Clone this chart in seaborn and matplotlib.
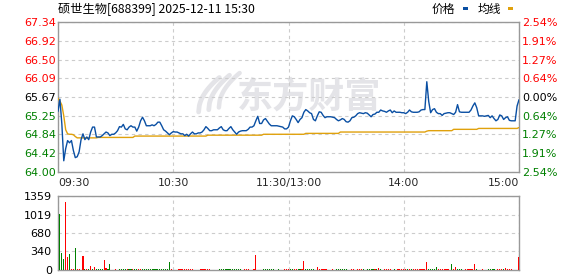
import numpy as np
import pandas as pd
import matplotlib
matplotlib.use("Agg")
import matplotlib.pyplot as plt
import seaborn as sns

# ---------------- data ----------------
title_text = "硕世生物[688399] 2025-12-11 15:30"
pre_close = 65.67
price_ticks = [64.00, 64.42, 64.84, 65.25, 65.67, 66.09, 66.50, 66.92, 67.34]
price_labels = ["64.00", "64.42", "64.84", "65.25", "65.67", "66.09", "66.50", "66.92", "67.34"]
pct_labels = ["2.54%", "1.91%", "1.27%", "0.64%", "0.00%", "0.64%", "1.27%", "1.91%", "2.54%"]
time_ticks = [0, 60, 120, 180, 240]
time_labels = ["09:30", "10:30", "11:30/13:00", "14:00", "15:00"]
vol_ticks = [0, 340, 680, 1019, 1359]
vol_labels = ["0", "340", "680", "1019", "1359"]

price = [
    65.35, 65.62, 65.07, 64.25, 64.52, 64.70, 64.65, 64.70, 64.48, 64.32,
    64.34, 64.45, 64.72, 64.85, 64.72, 64.78, 64.72, 64.89, 65.00, 65.00,
    64.78, 64.78, 64.78, 64.81, 64.85, 64.89, 64.87, 64.81, 64.84, 64.84,
    64.87, 64.92, 65.01, 65.00, 65.06, 64.96, 64.94, 65.00, 65.03, 65.00,
    65.00, 64.91, 65.00, 65.14, 65.22, 65.14, 65.03, 65.03, 65.03, 65.05,
    65.03, 65.06, 65.11, 65.11, 65.03, 64.94, 64.91, 64.87, 64.83, 64.87,
    64.90, 64.89, 64.89, 64.87, 64.85, 64.85, 64.81, 64.84, 64.80, 64.85,
    64.89, 64.85, 64.85, 64.87, 64.87, 64.89, 64.94, 65.01, 64.97, 64.92,
    64.92, 64.94, 64.94, 64.94, 64.98, 65.01, 64.94, 64.92, 64.92, 64.97,
    65.01, 64.94, 64.89, 64.84, 64.89, 64.91, 64.92, 64.92, 64.92, 64.95,
    65.00, 65.00, 65.03, 65.14, 65.24, 65.08, 65.08, 65.16, 65.19, 65.13,
    65.07, 65.03, 65.03, 65.03, 65.03, 65.02, 65.01, 65.00, 64.96, 64.96,
    65.00, 65.14, 65.25, 65.23, 65.17, 65.10, 65.17, 65.21, 65.33, 65.39,
    65.36, 65.32, 65.30, 65.17, 65.14, 65.25, 65.34, 65.33, 65.26, 65.21,
    65.23, 65.23, 65.23, 65.22, 65.21, 65.17, 65.14, 65.16, 65.19, 65.17,
    65.12, 65.11, 65.14, 65.21, 65.22, 65.25, 65.30, 65.32, 65.31, 65.30,
    65.32, 65.31, 65.27, 65.23, 65.28, 65.29, 65.33, 65.33, 65.38, 65.36,
    65.35, 65.33, 65.36, 65.38, 65.32, 65.36, 65.33, 65.33, 65.33, 65.32,
    65.32, 65.30, 65.33, 65.38, 65.34, 65.33, 65.33, 65.33, 65.34, 65.38,
    65.39, 65.39, 66.01, 65.57, 65.32, 65.39, 65.41, 65.33, 65.30, 65.30,
    65.26, 65.30, 65.31, 65.32, 65.32, 65.30, 65.28, 65.33, 65.50, 65.34,
    65.33, 65.33, 65.33, 65.33, 65.33, 65.38, 65.47, 65.54, 65.43, 65.25,
    65.25, 65.25, 65.24, 65.25, 65.26, 65.21, 65.25, 65.19, 65.14, 65.17,
    65.27, 65.25, 65.17, 65.21, 65.23, 65.15, 65.14, 65.14, 65.14, 65.47,
    65.61,
]

avg_price = [
    65.64, 65.58, 65.49, 65.25, 64.94, 64.85, 64.84, 64.84, 64.83, 64.79,
    64.76, 64.76, 64.76, 64.76, 64.76, 64.76, 64.76, 64.76, 64.76, 64.76,
    64.76, 64.77, 64.77, 64.77, 64.77, 64.77, 64.77, 64.77, 64.77, 64.77,
    64.77, 64.77, 64.77, 64.77, 64.77, 64.77, 64.77, 64.77, 64.77, 64.77,
    64.80, 64.80, 64.80, 64.80, 64.80, 64.80, 64.80, 64.80, 64.80, 64.80,
    64.80, 64.80, 64.80, 64.80, 64.80, 64.80, 64.80, 64.80, 64.80, 64.80,
    64.80, 64.80, 64.80, 64.80, 64.80, 64.80, 64.80, 64.80, 64.80, 64.80,
    64.80, 64.80, 64.80, 64.80, 64.80, 64.80, 64.80, 64.80, 64.82, 64.82,
    64.82, 64.82, 64.82, 64.82, 64.82, 64.82, 64.82, 64.82, 64.82, 64.82,
    64.82, 64.82, 64.82, 64.82, 64.82, 64.82, 64.82, 64.82, 64.82, 64.82,
    64.82, 64.82, 64.82, 64.82, 64.82, 64.82, 64.82, 64.84, 64.84, 64.84,
    64.84, 64.84, 64.84, 64.84, 64.84, 64.84, 64.84, 64.84, 64.84, 64.84,
    64.84, 64.84, 64.84, 64.84, 64.84, 64.84, 64.84, 64.84, 64.84, 64.86,
    64.86, 64.86, 64.86, 64.86, 64.86, 64.86, 64.86, 64.86, 64.86, 64.86,
    64.86, 64.86, 64.86, 64.86, 64.86, 64.86, 64.86, 64.89, 64.89, 64.89,
    64.89, 64.89, 64.89, 64.89, 64.89, 64.89, 64.89, 64.89, 64.89, 64.89,
    64.89, 64.89, 64.89, 64.89, 64.89, 64.89, 64.89, 64.89, 64.89, 64.89,
    64.89, 64.89, 64.89, 64.89, 64.89, 64.89, 64.89, 64.89, 64.89, 64.89,
    64.89, 64.89, 64.89, 64.89, 64.89, 64.89, 64.89, 64.89, 64.89, 64.89,
    64.89, 64.89, 64.91, 64.92, 64.92, 64.92, 64.92, 64.92, 64.92, 64.92,
    64.92, 64.92, 64.92, 64.92, 64.92, 64.92, 64.95, 64.95, 64.95, 64.95,
    64.95, 64.95, 64.95, 64.95, 64.95, 64.95, 64.95, 64.95, 64.95, 64.97,
    64.97, 64.97, 64.97, 64.97, 64.97, 64.97, 64.97, 64.97, 64.97, 64.97,
    64.97, 64.97, 64.97, 64.97, 64.97, 64.97, 64.97, 64.97, 64.97, 64.97,
    64.99,
]

volume = [
    0, 1028, 306, 202, 1255, 233, 294, 15, 15, 398,
    15, 15, 0, 257, 15, 15, 15, 73, 15, 49,
    15, 15, 15, 15, 184, 37, 15, 110, 0, 0,
    15, 0, 15, 15, 15, 15, 15, 15, 15, 25,
    15, 15, 15, 25, 15, 15, 15, 15, 15, 15,
    15, 15, 15, 15, 15, 15, 15, 15, 147, 15,
    0, 0, 0, 15, 15, 15, 15, 15, 15, 15,
    15, 0, 0, 0, 15, 15, 15, 15, 15, 15,
    0, 0, 0, 0, 15, 15, 15, 15, 15, 15,
    15, 15, 15, 15, 15, 15, 0, 15, 15, 15,
    0, 0, 15, 275, 0, 0, 0, 15, 15, 15,
    15, 15, 15, 0, 0, 15, 0, 0, 15, 15,
    15, 15, 15, 15, 15, 15, 15, 15, 165, 15,
    15, 15, 15, 15, 0, 49, 15, 15, 15, 15,
    15, 0, 0, 15, 0, 15, 15, 15, 15, 15,
    15, 0, 0, 15, 15, 0, 15, 15, 15, 15,
    0, 15, 15, 15, 15, 15, 15, 37, 15, 0,
    15, 15, 15, 15, 0, 15, 0, 15, 15, 15,
    15, 15, 15, 15, 15, 15, 15, 15, 15, 15,
    15, 15, 147, 15, 15, 15, 15, 55, 15, 15,
    15, 15, 15, 15, 0, 110, 15, 49, 15, 15,
    15, 0, 15, 15, 15, 15, 15, 110, 15, 0,
    0, 15, 0, 0, 15, 15, 15, 15, 0, 15,
    15, 15, 15, 37, 15, 15, 15, 0, 0, 0,
    239,
]

bar_dir = ("r" "ggg" "rr" "g" "rr" "g" "rrrr" "g" "r" "g" "r" "g" "r" "gggg" "rr" "gg"
           "rrrr" "gggg" "r" "gg" "r" "gg" "rr" + "g" * 15 + "r" * 21 + "g" * 16
           + "r" * 11 + "g" * 11 + "rrr" + "ggrrggr" + "r" + "g" * 6 + "r" * 10
           + "g" * 8 + "r" * 6 + "g" * 6 + "r" "g" "r" "gg" + "r" * 5 + "gg"
           + "r" * 4 + "rgrgr" + "r" * 7 + "g" * 5 + "r" * 7 + "g" "rr" + "g" * 4
           + "r" * 6 + "ggg" + "rrr" + "g" * 5 + "rrr" + "g" + "r" * 8)

n = len(price)
minutes = list(range(n))
bar_dir = (bar_dir + "r" * n)[:n]

df = pd.DataFrame({"minute": minutes, "price": price, "avg": avg_price})

# ---------------- style ----------------
sns.set_theme(style="white")
plt.rcParams["font.family"] = ["DejaVu Sans", "Noto Sans CJK SC"]

RED = "#ff0000"
GREEN = "#008000"
BLUE = "#0a4fa3"
ORANGE = "#e0a10c"
GRID = "#cccccc"
SPINE = "#999999"

W, H = 578, 276
fig = plt.figure(figsize=(W / 100, H / 100), dpi=100)
fig.patch.set_facecolor("white")

def frac(x0, y0, x1, y1):
    return [x0 / W, 1 - y1 / H, (x1 - x0) / W, (y1 - y0) / H]

ax = fig.add_axes(frac(58, 22, 519, 172))
axv = fig.add_axes(frac(58, 196, 519, 270))

# watermark
ax.text(0.545, 0.50, "东方财富", transform=ax.transAxes, ha="center", va="center",
        fontsize=26, fontweight="bold", color="#e4e4e8", family=["Noto Sans CJK SC"], zorder=0)
for k, (dx, lw) in enumerate([(0.0, 3.4), (0.022, 3.4), (0.044, 3.2)]):
    t = np.linspace(0, 1, 30)
    xs = 0.305 + dx + 0.045 * t
    ys = 0.40 + 0.23 * np.sqrt(t) + 0.015 * k
    ax.plot(xs, ys, transform=ax.transAxes, color="#e4e4e8", lw=lw,
            solid_capstyle="round", zorder=0)

# lines
sns.lineplot(data=df, x="minute", y="avg", ax=ax, color=ORANGE, linewidth=1.0,
             errorbar=None, zorder=3)
sns.lineplot(data=df, x="minute", y="price", ax=ax, color=BLUE, linewidth=1.0,
             errorbar=None, zorder=4)

ax.set_xlim(0, 240)
ax.set_ylim(price_ticks[0], price_ticks[-1])
ax.set_xlabel("")
ax.set_ylabel("")
ax.set_xticks(time_ticks)
ax.set_xticklabels(time_labels)
ax.set_yticks(price_ticks)
ax.set_yticklabels(price_labels)
ax.tick_params(axis="both", length=0, labelsize=8)
ax.tick_params(axis="y", pad=1.5)
ax.tick_params(axis="x", pad=4, labelsize=7.8)
xt = ax.get_xticklabels()
xt[0].set_ha("left")
xt[-1].set_ha("right")
for lab, v in zip(ax.get_yticklabels(), price_ticks):
    lab.set_color(RED if v > pre_close + 1e-6 else (GREEN if v < pre_close - 1e-6 else "black"))

ax.grid(True, linestyle=(0, (3, 3)), color=GRID, linewidth=0.8)
for s in ax.spines.values():
    s.set_color(SPINE)
    s.set_linewidth(1.0)

axr = ax.twinx()
axr.set_ylim(price_ticks[0], price_ticks[-1])
axr.set_yticks(price_ticks)
axr.set_yticklabels(pct_labels[::-1])
axr.tick_params(axis="y", length=0, labelsize=8, pad=2)
for lab, v in zip(axr.get_yticklabels(), price_ticks):
    lab.set_color(RED if v > pre_close + 1e-6 else (GREEN if v < pre_close - 1e-6 else "black"))
axr.grid(False)
for s in axr.spines.values():
    s.set_visible(False)

# volume bars
bar_colors = [RED if c == "r" else GREEN for c in bar_dir]
axv.bar(minutes, volume, width=0.6, color=bar_colors, edgecolor="none",
        linewidth=0, zorder=3, antialiased=False)
axv.set_xlim(0, 240)
axv.set_ylim(0, vol_ticks[-1])
axv.set_xticks(time_ticks)
axv.set_xticklabels([])
axv.set_yticks(vol_ticks)
axv.set_yticklabels(vol_labels)
axv.tick_params(axis="both", length=0, labelsize=8)
axv.tick_params(axis="y", pad=4.5, colors="black")
axv.grid(True, linestyle=(0, (3, 3)), color=GRID, linewidth=0.8)
for s in axv.spines.values():
    s.set_color(SPINE)
    s.set_linewidth(1.0)

# title and legend
fig.text(58 / W, 1 - 9 / H, title_text, ha="left", va="center", fontsize=8.8,
         family=["Noto Sans CJK SC", "DejaVu Sans"], color="black")
fig.text(443 / W, 1 - 9 / H, "价格", ha="center", va="center", fontsize=8.5,
         family=["Noto Sans CJK SC"], color="black")
fig.text(489 / W, 1 - 9 / H, "均线", ha="center", va="center", fontsize=8.5,
         family=["Noto Sans CJK SC"], color="black")
fig.patches.append(plt.Rectangle((463 / W, 1 - 10 / H), 5 / W, 3 / H, transform=fig.transFigure,
                                 facecolor=BLUE, edgecolor="none"))
fig.patches.append(plt.Rectangle((508 / W, 1 - 10 / H), 5 / W, 3 / H, transform=fig.transFigure,
                                 facecolor=ORANGE, edgecolor="none"))

fig.savefig("out.png", dpi=100, facecolor="white")
